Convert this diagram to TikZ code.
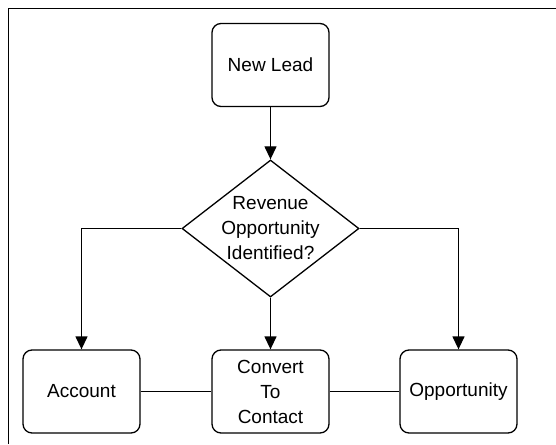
\documentclass[tikz,border=0pt]{standalone}
\usepackage{fontspec}
\setmainfont{Liberation Sans}
\usetikzlibrary{shapes.geometric,arrows.meta}
\begin{document}
\begin{tikzpicture}[x=1pt,y=-1pt,
  line width=1.3pt,
  box/.style={draw, rounded corners=9pt, minimum width=117pt, minimum height=83pt,
    inner sep=0pt, align=center, font=\fontsize{19}{25}\selectfont},
  decision/.style={draw, diamond, minimum width=177pt, minimum height=137pt, inner sep=0pt},
  lbl/.style={align=center, inner sep=0pt, font=\fontsize{19}{25}\selectfont},
  arr/.style={-{Triangle[width=12pt,length=13pt]}}]
\useasboundingbox (0,0) rectangle (556,444);
\draw (8.5,444) -- (8.5,8.5) -- (556,8.5);
\node[box] (lead) at (270.5,65) {New Lead};
\node[decision] (dec) at (270.5,228.5) {};
\node[lbl] (dectext) at (270.5,228.5) {Revenue\\Opportunity\\Identified?};
\node[box] (acc) at (81.5,391.5) {Account};
\node[box] (conv) at (270.5,391.5) {Convert\\To\\Contact};
\node[box] (opp) at (458.5,391.5) {Opportunity};
\draw[arr] (lead) -- (dec);
\draw[arr] (dec.west) -| (acc.north);
\draw[arr] (dec.east) -| (opp.north);
\draw[arr] (dec) -- (conv);
\draw (acc) -- (conv);
\draw (conv) -- (opp);
\end{tikzpicture}
\end{document}
